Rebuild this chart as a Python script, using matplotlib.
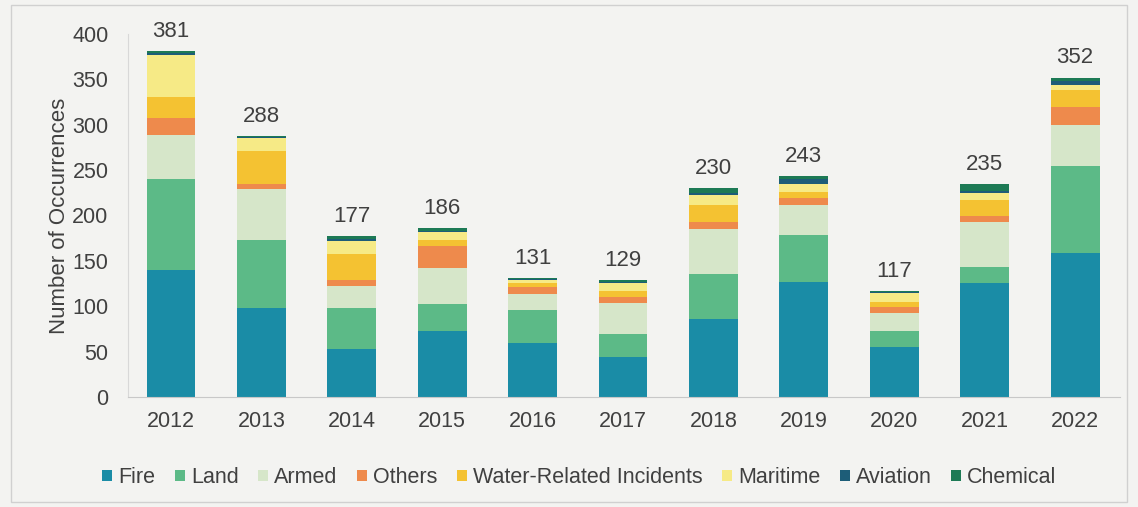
import numpy as np
import matplotlib.pyplot as plt

plt.rcParams['font.family'] = ['Liberation Sans', 'DejaVu Sans']

years = ['2012', '2013', '2014', '2015', '2016', '2017', '2018', '2019', '2020', '2021', '2022']
totals = [381, 288, 177, 186, 131, 129, 230, 243, 117, 235, 352]

fire = [140, 98, 53, 73, 59, 44, 86, 127, 55, 126, 159]
land = [100, 75, 45, 30, 37, 25, 49, 51, 18, 17, 95]
armed = [49, 56, 24, 39, 17, 35, 50, 33, 20, 50, 46]
others = [18, 6, 7, 24, 8, 6, 8, 8, 6, 6, 20]
water = [24, 36, 29, 7, 5, 7, 18, 7, 6, 18, 18]
maritime = [46, 14, 14, 9, 3, 9, 12, 9, 10, 8, 6]
aviation = [2, 1, 2, 1, 1, 1, 2, 5, 1, 2, 4]
chemical = [2, 2, 3, 3, 1, 2, 5, 3, 1, 8, 4]

series = [
    ('Fire', fire, '#1a8ca6'),
    ('Land', land, '#5cba87'),
    ('Armed', armed, '#d6e6c9'),
    ('Others', others, '#ee8a4c'),
    ('Water-Related Incidents', water, '#f4c232'),
    ('Maritime', maritime, '#f6ea86'),
    ('Aviation', aviation, '#1d5d78'),
    ('Chemical', chemical, '#1d7a55'),
]

bg = '#f3f3f1'
txt = '#404040'

fig = plt.figure(figsize=(11.38, 5.07), dpi=100, facecolor=bg)
ax = fig.add_axes([0.1125, 0.217, 0.872, 0.716], facecolor=bg)

x = np.arange(len(years))
bottom = np.zeros(len(years))
for name, vals, col in series:
    ax.bar(x, vals, 0.54, bottom=bottom, color=col, label=name)
    bottom += np.array(vals)

# totals above each stack
for xi, t in zip(x, totals):
    ax.text(xi, t + 10, str(t), ha='center', va='bottom', fontsize=16, color=txt)

ax.set_xlim(-0.475, len(years) - 0.5)
ax.set_ylim(0, 400)
ax.set_yticks(range(0, 401, 50))
ax.set_xticks(x)
ax.set_xticklabels(years)
ax.tick_params(axis='both', length=0, labelsize=15.5, labelcolor=txt)
ax.tick_params(axis='x', pad=10)
ax.tick_params(axis='y', pad=14)
for s in ['top', 'right']:
    ax.spines[s].set_visible(False)
ax.spines['left'].set_color('#d8d8d8')
ax.spines['bottom'].set_color('#c8c8c8')
ax.set_ylabel('Number of Occurrences', fontsize=16, color=txt, labelpad=2)

ax.legend(loc='upper center', bbox_to_anchor=(0.455, -0.14), ncol=8, frameon=False,
          fontsize=15.5, labelcolor=txt, handlelength=0.45, handleheight=0.45,
          handletextpad=0.3, columnspacing=0.9)

fig.patches.append(plt.Rectangle((0.01, 0.01), 0.98, 0.98, transform=fig.transFigure,
                                 fill=False, edgecolor='#d0d0d0', lw=1))

fig.savefig('out.png', dpi=100, facecolor=bg)
